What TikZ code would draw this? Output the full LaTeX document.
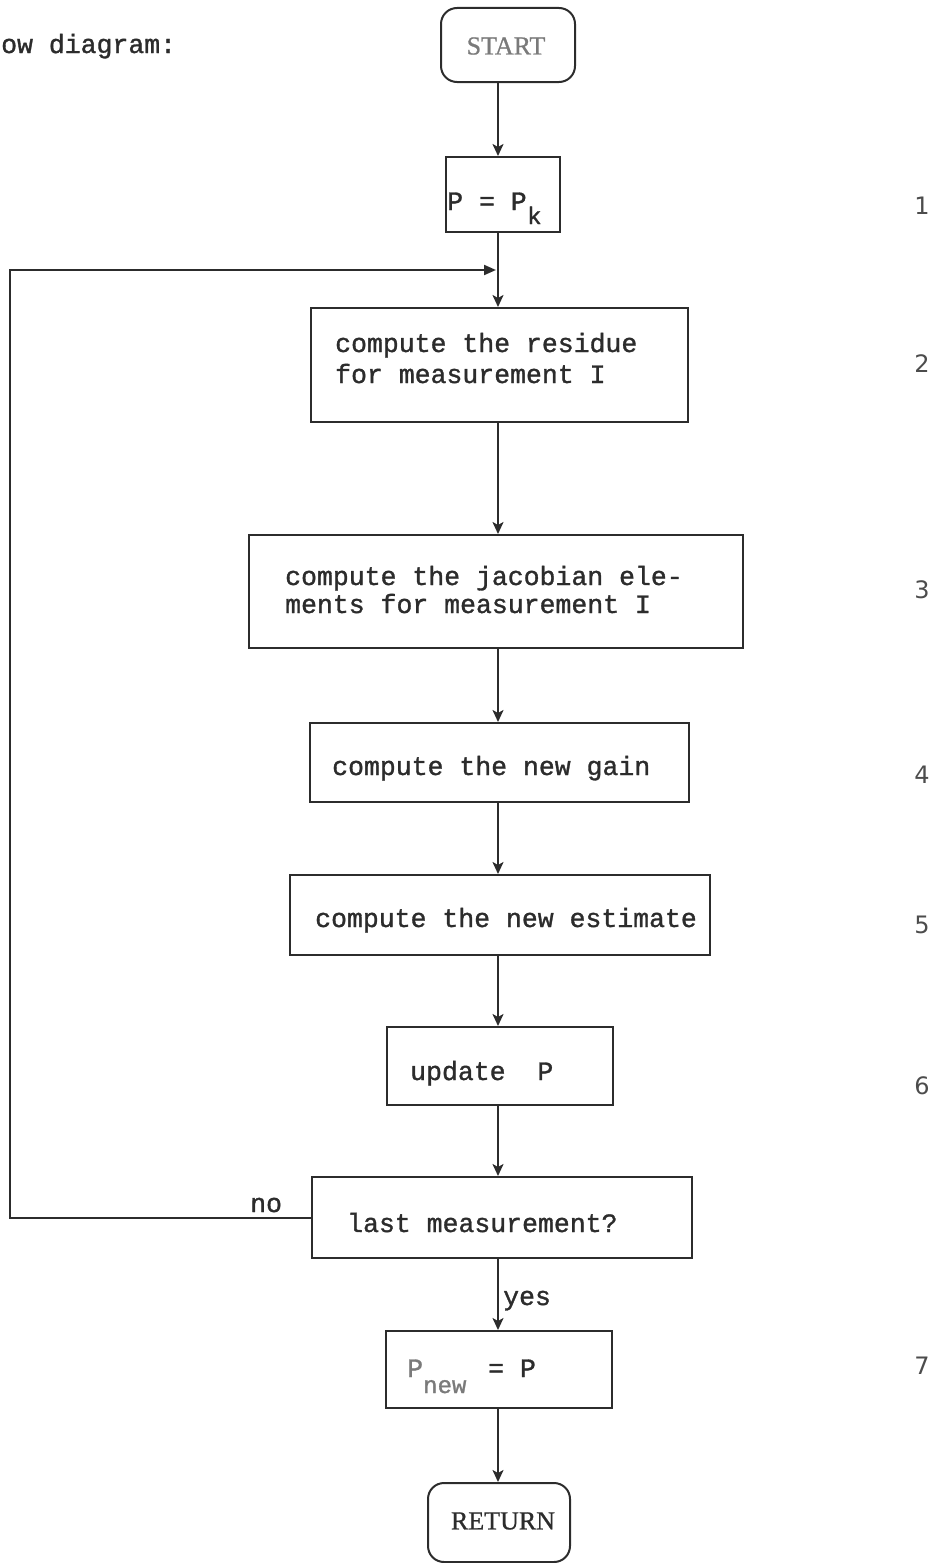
\documentclass[tikz,border=0pt]{standalone}
\usepackage{fontspec}
\newfontfamily\twfont[FakeBold=1.2]{Liberation Mono}
\newfontfamily\termfont[FakeBold=0.8]{Liberation Serif}
\newfontfamily\numfont{DejaVu Sans}
\usetikzlibrary{arrows.meta}
\definecolor{ink}{HTML}{2c2c2c}
\definecolor{faded}{HTML}{7a7a7a}
\tikzset{
  box/.style={draw=ink, line width=2pt, inner sep=0pt},
  term/.style={box, rounded corners=16pt},
  txt/.style={anchor=base west, inner sep=0pt, text=ink, font=\twfont\fontsize{26.5}{31}\selectfont},
  subtxt/.style={txt, font=\twfont\fontsize{24}{28}\selectfont},
  termtxt/.style={inner sep=0pt, font=\termfont\fontsize{26}{30}\selectfont},
  numtxt/.style={inner sep=0pt, text=ink!85, font=\numfont\fontsize{24}{28}\selectfont},
  line/.style={draw=ink, line width=2pt},
  conn/.style={line, -{Stealth[length=12pt,width=11pt,inset=3pt]}},
  loopconn/.style={line, -{Triangle[length=12pt,width=10pt]}}
}
\begin{document}
\begin{tikzpicture}[x=1pt,y=-1pt]
\useasboundingbox (0,0) rectangle (934,1563);
\coordinate (col) at (498,0);

% heading
\node[txt] (head) at (1,53) {ow diagram:};

% boxes
\node[term, minimum width=134pt, minimum height=74pt] (start) at (508,45) {};
\node[termtxt, text=faded] (starttxt) at (506,46) {START};

\node[box, minimum width=114pt, minimum height=75pt] (pk) at (503,194.5) {};
\node[txt] (pktxt) at (447,210) {P = P};
\node[subtxt] (pksub) at (527,224) {k};

\node[box, minimum width=377pt, minimum height=114pt] (b2) at (499.5,365) {};
\node[txt] (b2a) at (335,352) {compute the residue};
\node[txt] (b2b) at (335,383) {for measurement I};

\node[box, minimum width=494pt, minimum height=113pt] (b3) at (496,591.5) {};
\node[txt] (b3a) at (285,585) {compute the jacobian ele-};
\node[txt] (b3b) at (285,613) {ments for measurement I};

\node[box, minimum width=379pt, minimum height=79pt] (b4) at (499.5,762.5) {};
\node[txt] (b4a) at (332,775) {compute the new gain};

\node[box, minimum width=420pt, minimum height=80pt] (b5) at (500,915) {};
\node[txt] (b5a) at (315,927) {compute the new estimate};

\node[box, minimum width=226pt, minimum height=78pt] (b6) at (500,1066) {};
\node[txt] (b6a) at (410,1080) {update\ \ P};

\node[box, minimum width=380pt, minimum height=81pt] (last) at (502,1217.5) {};
\node[txt] (lasta) at (347,1232) {last measurement?};

\node[box, minimum width=226pt, minimum height=77pt] (pnew) at (499,1369.5) {};
\node[txt, text=faded] (pnewP) at (407,1377) {P};
\node[subtxt, text=faded] (pnewsub) at (423,1393) {new};
\node[txt] (pnewrest) at (488,1377) {= P};

\node[term, minimum width=142pt, minimum height=79pt] (ret) at (499,1522.5) {};
\node[termtxt, text=ink] (rettxt) at (503,1521) {RETURN};

% step numbers
\node[numtxt] (n1) at (922,206) {1};
\node[numtxt] (n2) at (922,364) {2};
\node[numtxt] (n3) at (922,590) {3};
\node[numtxt] (n4) at (922,775) {4};
\node[numtxt] (n5) at (922,925) {5};
\node[numtxt] (n6) at (922,1086) {6};
\node[numtxt] (n7) at (922,1366) {7};

% connectors
\draw[conn] (start.south -| col) -- (pk.north -| col);
\draw[conn] (pk.south -| col) -- (b2.north -| col);
\draw[conn] (b2.south -| col) -- (b3.north -| col);
\draw[conn] (b3.south -| col) -- (b4.north -| col);
\draw[conn] (b4.south -| col) -- (b5.north -| col);
\draw[conn] (b5.south -| col) -- (b6.north -| col);
\draw[conn] (b6.south -| col) -- (last.north -| col);
\draw[conn] (last.south -| col) -- (pnew.north -| col);
\draw[conn] (pnew.south -| col) -- (ret.north -| col);

% loop back
\coordinate (lcorner) at (10,270);
\coordinate (ljoin) at (496,270);
\draw[loopconn] (last.west) -| (lcorner) -- (ljoin);
\node[txt] (nolbl) at (250,1212) {no};
\node[txt] (yeslbl) at (503,1305) {yes};
\end{tikzpicture}
\end{document}
